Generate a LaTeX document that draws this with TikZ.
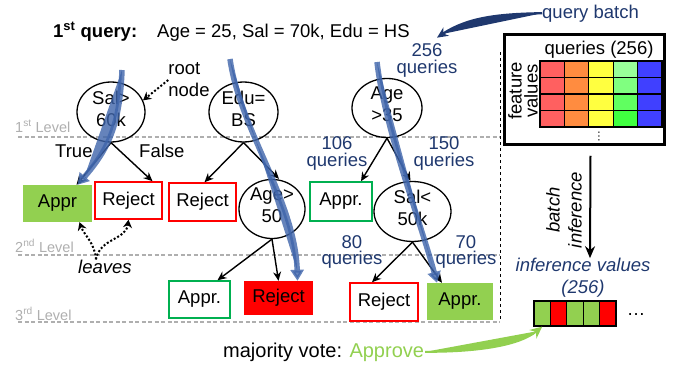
\documentclass[tikz,border=0pt]{standalone}
\usepackage{fontspec}
\setmainfont{Liberation Sans}
\usetikzlibrary{arrows.meta,shapes.geometric}
\definecolor{navy}{RGB}{31,56,110}
\definecolor{flowblue}{RGB}{62,100,170}
\definecolor{apprgreen}{RGB}{146,208,80}
\definecolor{outgreen}{RGB}{0,176,80}
\definecolor{rejred}{RGB}{255,0,0}
\definecolor{lvlgray}{RGB}{175,175,175}
\definecolor{cellred}{RGB}{255,96,96}
\definecolor{cellorange}{RGB}{255,140,64}
\definecolor{cellyellow}{RGB}{255,255,64}
\definecolor{cellgreen0}{RGB}{153,255,153}
\definecolor{cellgreen1}{RGB}{128,255,128}
\definecolor{cellgreen2}{RGB}{96,255,96}
\definecolor{cellgreen3}{RGB}{64,255,64}
\definecolor{cellblue}{RGB}{64,64,255}
\newcommand{\fbody}{\fontsize{18.5}{22}\selectfont}
\newcommand{\fcount}{\fontsize{18.5}{16.5}\selectfont}
\newcommand{\flevel}{\fontsize{14.5}{17}\selectfont}
\newcommand{\ffeat}{\fontsize{18.5}{16}\selectfont}
\newcommand{\fvote}{\fontsize{20}{24}\selectfont}
\tikzset{
  cond/.style={draw, ellipse, line width=1.3pt, inner sep=0pt, align=center, font=\fbody, text depth=7pt, minimum width=68pt, minimum height=51pt},
  leaf/.style={draw=#1, line width=1.5pt, inner sep=0pt, minimum width=67pt, minimum height=37pt, font=\fbody},
  leaf/.default={rejred},
  hit/.style={fill=#1, inner sep=0pt, minimum width=68pt, minimum height=36pt, font=\fbody},
  cnt/.style={text=navy, align=center, inner sep=0pt, font=\fcount},
  lvl/.style={text=lvlgray, anchor=base west, inner sep=0pt, font=\flevel},
  level/.style={draw=lvlgray, line width=1.2pt, dash pattern=on 4pt off 2.5pt},
  plain/.style={anchor=base west, inner sep=0pt, font=\fbody},
  arrow/.style={-{Stealth[length=9pt,width=8pt]}, line width=1.4pt},
  flow/.style={-{Triangle[length=11pt,width=13pt]}, line width=5.5pt, draw=flowblue, fill=flowblue, opacity=.8},
  note/.style={-{Stealth[length=8pt,width=9pt]}, line width=2pt, dash pattern=on 2pt off 2pt},
  cell/.style={draw, line width=1.2pt, inner sep=0pt, minimum width=24.4pt, minimum height=16.5pt},
  vcell/.style={draw, line width=1.2pt, inner sep=0pt, minimum width=16.4pt, minimum height=25pt}
}
\begin{document}
\begin{tikzpicture}[x=1pt,y=-1pt]
  \useasboundingbox (0,0) rectangle (681,367);
  \node[plain] (qlabel) at (53,37) {\textbf{1\textsuperscript{st} query:}};
  \node[plain] (qvals) at (157,37) {Age = 25, Sal = 70k, Edu = HS};
  \node[plain, text=navy] (qbatch) at (542,18) {query batch};

  \draw[level] (18,137) -- (500,137);
  \draw[level] (18,255) -- (500,255);
  \draw[level] (18,322) -- (500,322);
  \node[lvl] (lv1) at (15,132) {1\textsuperscript{st} Level};
  \node[lvl] (lv2) at (15,252) {2\textsuperscript{nd} Level};
  \node[lvl] (lv3) at (15,320) {3\textsuperscript{rd} Level};
  \draw[dashed, line width=1pt] (500,52) -- (500,320);

  \node[cond] (sal60) at (111,112) {Sal>\\60k};
  \node[cond, minimum width=69pt] (edu) at (243.5,112) {Edu=\\BS};
  \node[cond, minimum width=70pt, minimum height=58pt] (age35) at (387,108) {Age\\>35};
  \node[cond, minimum width=66pt, minimum height=52pt] (age50) at (272,209) {Age>\\50};
  \node[cond, minimum width=77pt, minimum height=57pt] (sal50) at (412.5,211.5) {Sal<\\50k};

  \node[hit=apprgreen, minimum width=69pt, minimum height=37pt] (appr1) at (57.5,203.5) {Appr};
  \node[leaf] (rej1) at (128.5,200.5) {Reject};
  \node[leaf, minimum height=38pt] (rej2) at (202.5,202) {Reject};
  \node[leaf=outgreen, minimum width=61pt] (appr2) at (199.5,299.5) {Appr.};
  \node[hit=rejred, minimum width=69pt, minimum height=34pt] (rej3) at (278.5,298) {Reject};
  \node[leaf=outgreen, minimum width=62pt, minimum height=39pt] (appr3) at (341,201.5) {Appr.};
  \node[leaf, minimum width=68pt, minimum height=38pt] (rej4) at (384,302) {Reject};
  \node[hit=apprgreen, minimum width=66pt, minimum height=37pt] (appr4) at (460,301.5) {Appr.};

  \node[plain] (true) at (55,157) {True};
  \node[plain] (false) at (139,157) {False};
  \node[cnt] (cnt0) at (427,60.5) {256\\queries};
  \node[cnt] (cnt1) at (337,153.5) {106\\queries};
  \node[cnt] (cnt2) at (444,153.5) {150\\queries};
  \node[cnt] (cnt3) at (352,252) {80\\queries};
  \node[cnt] (cnt4) at (466,252) {70\\queries};

  \draw[arrow] (sal60.south) -- ([xshift=19pt]appr1.north);
  \draw[arrow] (sal60.south) -- ([xshift=24pt]rej1.north);
  \draw[arrow] (edu.south) -- ([xshift=2pt]rej2.north);
  \draw[arrow] (edu.south) -- ([xshift=7pt]age50.north);
  \draw[arrow] (age50.south) -- ([xshift=18pt]appr2.north);
  \draw[arrow] (age50.south) -- (rej3.north);
  \draw[arrow] (age35.south) -- ([xshift=20pt]appr3.north);
  \draw[arrow] (age35.south) -- ([xshift=-2pt]sal50.north);
  \draw[arrow] (sal50.south) -- ([xshift=-12pt]rej4.north);
  \draw[arrow] (sal50.south) -- ([xshift=-18pt]appr4.north);

  \node[font=\fbody, align=left, inner sep=0pt] (rootnote) at (189,80) {root\\node};
  \draw[note] (rootnote.west) -- (sal60.20);
  \node[plain, font=\fbody\itshape] (leaves) at (78,273) {leaves};
  \draw[note] ([xshift=-9pt]leaves.north) .. controls (95,243) and (84,235) .. ([xshift=22pt]appr1.south);
  \draw[note] ([xshift=-9pt]leaves.north) .. controls (100,238) and (126,240) .. (rej1.south);

  \coordinate (f1) at (122,70);
  \coordinate (f2) at (230,59);
  \coordinate (f3) at (377,62);
  \draw[flow] (f1) .. controls (120,125) and (108,150) .. ([xshift=20pt]appr1.north);
  \draw[flow] (f2) .. controls (240,130) and (295,200) .. ([xshift=19pt]rej3.north);
  \draw[flow] (f3) .. controls (385,130) and (420,220) .. ([xshift=-23pt]appr4.north);

  \draw[-{Stealth[length=11pt,width=10pt]}, line width=2.3pt, draw=navy, fill=navy] (qbatch.west) .. controls (500,14) and (468,17) .. ([xshift=10pt,yshift=6pt]cnt0.north);

  \node[draw, line width=2.5pt, inner sep=0pt, minimum width=160pt, minimum height=110pt] (batchbox) at (584.5,89.5) {};
  \node[anchor=base, inner sep=0pt, font=\fbody] (qhead) at (599,54) {queries (256)};
  \foreach \j in {0,...,3}
    \foreach \c [count=\i from 0] in {cellred,cellorange,cellyellow,cellgreen\j,cellblue}
      \node[cell, fill=\c] (g\i\j) at ({552.2+24.4*\i},{69.25+16.5*\j}) {};
  \node[rotate=90, align=center, inner sep=0pt, font=\ffeat] (feat) at (523,91) {feature\\values};
  \node[rotate=90, inner sep=0pt, font=\fontsize{12}{12}\selectfont] (vdots) at (599,136) {\ldots};

  \node[cnt, font=\fbody\itshape] (infval) at (583,278) {inference values\\(256)};
  \draw[-{Stealth[length=12pt,width=10pt]}, line width=2pt] ([xshift=6pt,yshift=-10pt]batchbox.south) -- ([xshift=7pt]infval.north);
  \node[rotate=90, align=center, inner sep=0pt, font=\fbody\itshape] (batchlbl) at (564,210) {batch\\inference};
  \foreach \c [count=\i] in {apprgreen,rejred,apprgreen,apprgreen,rejred}
    \node[vcell, fill=\c] (v\i) at ({534+16.4*\i-8.2},313.5) {};
  \node[inner sep=0pt, font=\fbody] (more) at (636,315) {\ldots};

  \node[plain, inner sep=1pt, font=\fvote] (vote) at (222,357) {majority vote: \textcolor{apprgreen}{Approve}};
  \draw[-{Stealth[length=12pt,width=11pt]}, line width=2pt, draw=apprgreen, fill=apprgreen] (vote.east) .. controls (480,352) and (520,345) .. (v1.south);
\end{tikzpicture}
\end{document}
